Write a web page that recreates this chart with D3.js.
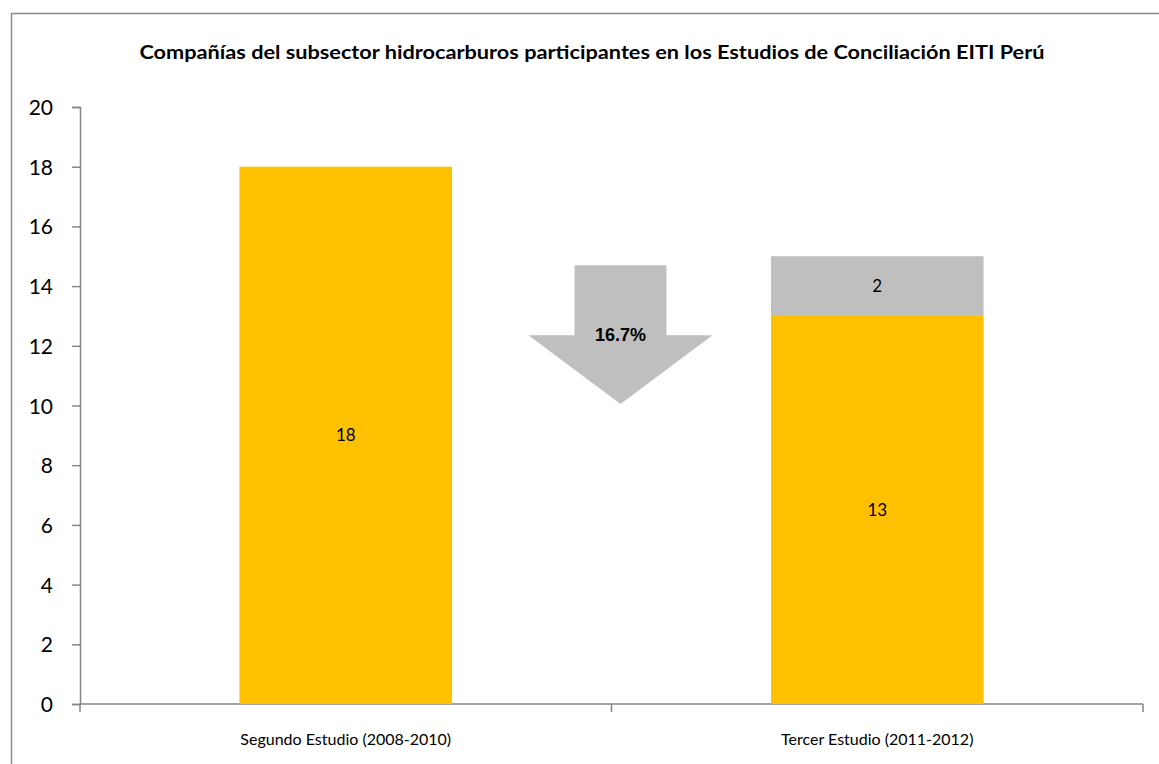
<!DOCTYPE html>
<html>
<head>
<meta charset="utf-8">
<script src="https://cdn.jsdelivr.net/npm/d3@7"></script>
<style>
  body { margin: 0; background: #fff; }
  svg { display: block; }
</style>
</head>
<body>
<svg></svg>
<script>
// Data
var categories = ["Segundo Estudio (2008-2010)", "Tercer Estudio (2011-2012)"]
var baseSeries = [18, 13]    // yellow part
var extraSeries = [0, 2]     // grey part stacked on top
var yTicks = [0, 2, 4, 6, 8, 10, 12, 14, 16, 18, 20]
var title = "Compañías del subsector hidrocarburos participantes en los Estudios de Conciliación EITI Perú"

var canvasSize = {width: 1159, height: 764}
var margin = {top: 107, right: 16, bottom: 60, left: 80},
    width = canvasSize.width - margin.left - margin.right,
    height = canvasSize.height - margin.top - margin.bottom

var svg = d3.select("svg")
    .attr("width", canvasSize.width)
    .attr("height", canvasSize.height)

// chart frame (cut at the right/bottom like the picture)
svg.append("rect")
    .attr("x", 11.5).attr("y", 13.5)
    .attr("width", 1200).attr("height", 800)
    .attr("fill", "none")
    .attr("stroke", "#8c8c8c")
    .attr("stroke-width", 1.5)

var titleText = svg.append("text")
    .attr("x", 592).attr("y", 59)
    .attr("text-anchor", "middle")
    .attr("font-family", "Lato, 'Open Sans', sans-serif")
    .attr("font-weight", "bold")
    .attr("font-size", 19)
    .attr("fill", "#000")
    .text(title)
// stretch to the reference's title width
titleText.attr("textLength", 905).attr("lengthAdjust", "spacingAndGlyphs")

var view = svg.append("g")
    .attr("transform", `translate(${margin.left},${margin.top})`)

var x = d3.scaleBand()
    .domain(categories)
    .range([0, width])
    .paddingInner(0.6)
    .paddingOuter(0.3)

var y = d3.scaleLinear()
    .domain([0, 20])
    .range([height, 0])

// axes
var yAxis = d3.axisLeft(y).tickValues(yTicks).tickSize(8).tickPadding(19)
var yG = view.append("g").call(yAxis)
yG.select(".domain").attr("stroke", "#868686").attr("stroke-width", 1.5)
yG.selectAll(".tick line").attr("stroke", "#868686").attr("stroke-width", 1.5)
yG.selectAll(".tick text")
    .attr("font-family", "Lato, 'Open Sans', sans-serif")
    .attr("font-size", 21)
    .attr("fill", "#000")
    .attr("dy", "0.36em")

// x axis: line with ticks between categories
var xG = view.append("g").attr("transform", `translate(0,${height})`)
xG.append("line")
    .attr("x1", 0).attr("x2", width)
    .attr("stroke", "#868686").attr("stroke-width", 1.5)
var bounds = [0, width / 2, width]
xG.selectAll(".xtick").data(bounds).enter().append("line")
    .attr("x1", d => d).attr("x2", d => d)
    .attr("y1", 0).attr("y2", 8)
    .attr("stroke", "#868686").attr("stroke-width", 1.5)
xG.selectAll(".xlabel").data(categories).enter().append("text")
    .attr("x", d => x(d) + x.bandwidth() / 2)
    .attr("y", 41)
    .attr("text-anchor", "middle")
    .attr("font-family", "Lato, 'Open Sans', sans-serif")
    .attr("font-size", 16)
    .attr("fill", "#000")
    .text(d => d)

// stacked bars
var rows = categories.map((c, i) => ({cat: c, base: baseSeries[i], extra: extraSeries[i]}))

view.selectAll(".base").data(rows).enter().append("rect")
    .attr("x", d => x(d.cat))
    .attr("width", x.bandwidth())
    .attr("y", d => y(d.base))
    .attr("height", d => y(0) - y(d.base))
    .attr("fill", "#FFC000")

view.selectAll(".extra").data(rows.filter(d => d.extra > 0)).enter().append("rect")
    .attr("x", d => x(d.cat))
    .attr("width", x.bandwidth())
    .attr("y", d => y(d.base + d.extra))
    .attr("height", d => y(d.base) - y(d.base + d.extra))
    .attr("fill", "#BFBFBF")

var labelFont = "Lato, 'Open Sans', sans-serif"
view.selectAll(".blabel").data(rows).enter().append("text")
    .attr("x", d => x(d.cat) + x.bandwidth() / 2)
    .attr("y", d => y(d.base / 2))
    .attr("dy", "0.35em")
    .attr("text-anchor", "middle")
    .attr("font-family", labelFont)
    .attr("font-size", 17)
    .attr("fill", "#000")
    .text(d => d.base)

view.selectAll(".elabel").data(rows.filter(d => d.extra > 0)).enter().append("text")
    .attr("x", d => x(d.cat) + x.bandwidth() / 2)
    .attr("y", d => y(d.base + d.extra / 2))
    .attr("dy", "0.35em")
    .attr("text-anchor", "middle")
    .attr("font-family", labelFont)
    .attr("font-size", 17)
    .attr("fill", "#000")
    .text(d => d.extra)

// down arrow with the percentage drop
var before = baseSeries[0] + extraSeries[0]
var after = baseSeries[1] + extraSeries[1]
var drop = (before - after) / before * 100
var ax = width / 2 + 9
var arrowTop = y(14.7), arrowWing = y(12.35), arrowTip = y(10.05)
var arrow = [
    [ax - 46, arrowTop], [ax + 46, arrowTop], [ax + 46, arrowWing], [ax + 92, arrowWing],
    [ax, arrowTip], [ax - 92, arrowWing], [ax - 46, arrowWing]
]
view.append("path")
    .attr("d", d3.line()(arrow) + "Z")
    .attr("fill", "#BFBFBF")
view.append("text")
    .attr("x", ax).attr("y", arrowWing + 6)
    .attr("text-anchor", "middle")
    .attr("font-family", "'Liberation Sans', Arial, sans-serif")
    .attr("font-weight", "bold")
    .attr("font-size", 18)
    .attr("fill", "#000")
    .text(drop.toFixed(1) + "%")
</script>
</body>
</html>
